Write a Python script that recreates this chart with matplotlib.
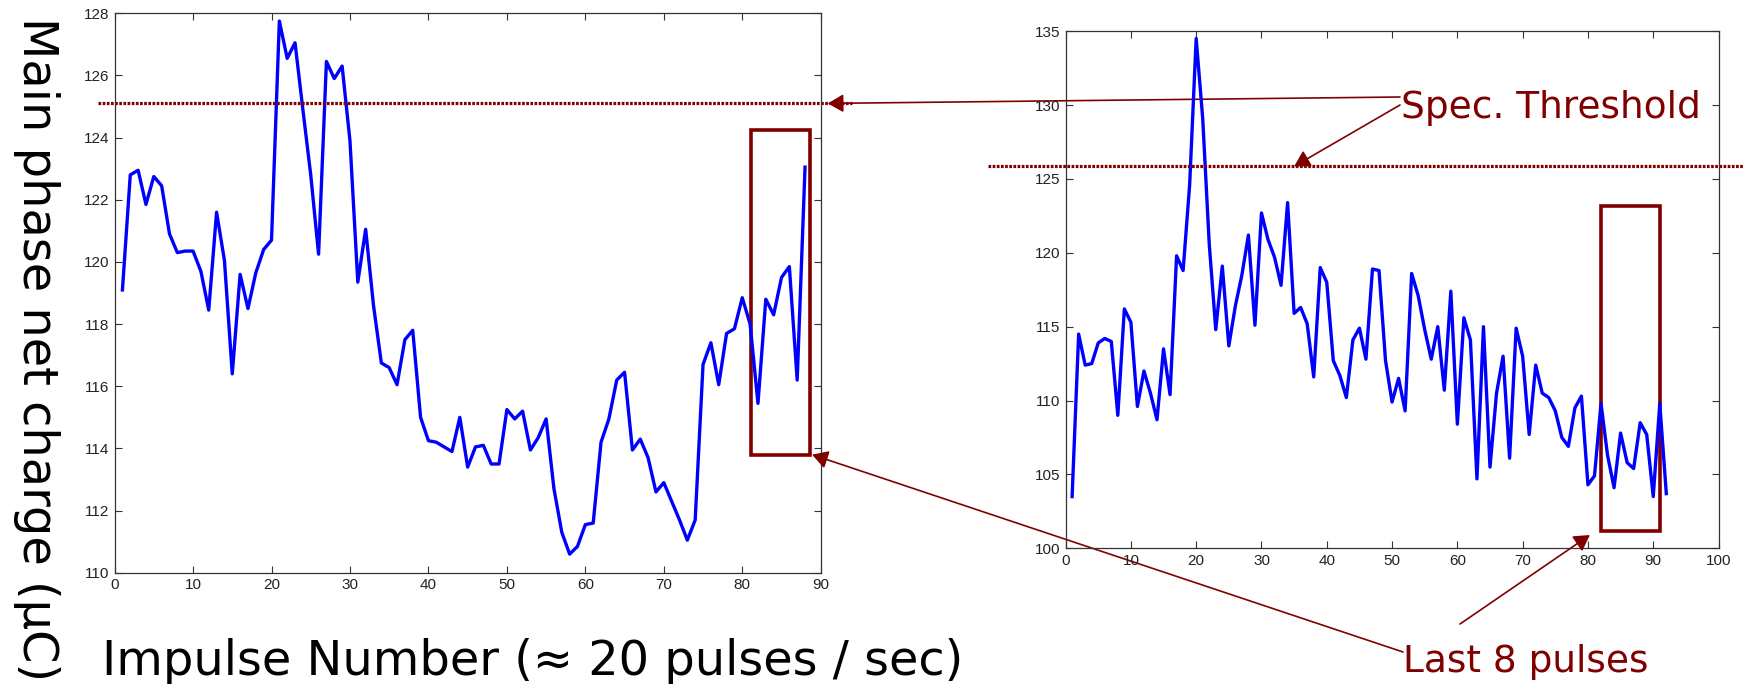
import numpy as np
import matplotlib.pyplot as plt
from matplotlib.patches import Rectangle

# left panel: net charge per impulse (first run)
left_pulse = np.arange(1, 89)
left_charge = [119.1, 122.8, 122.95, 121.85, 122.75, 122.45, 120.9, 120.3, 120.35, 120.35,
               119.7, 118.45, 121.6, 120.05, 116.4, 119.6, 118.5, 119.65, 120.4, 120.7,
               127.75, 126.55, 127.05, 124.9, 122.8, 120.25, 126.45, 125.9, 126.3, 123.9,
               119.35, 121.05, 118.6, 116.75, 116.6, 116.05, 117.5, 117.8, 115.0, 114.25,
               114.2, 114.05, 113.9, 115.0, 113.4, 114.05, 114.1, 113.5, 113.5, 115.25,
               114.95, 115.2, 113.95, 114.35, 114.95, 112.7, 111.3, 110.6, 110.85, 111.55,
               111.6, 114.2, 114.95, 116.2, 116.45, 113.95, 114.3, 113.7, 112.6, 112.9,
               112.3, 111.7, 111.05, 111.7, 116.7, 117.4, 116.05, 117.7, 117.85, 118.85,
               118.0, 115.45, 118.8, 118.3, 119.5, 119.85, 116.2, 123.05]
left_threshold = 125.1
left_box = (81.1, 113.8, 88.65, 124.25)   # x0, y0, x1, y1

# right panel: second run
right_pulse = np.arange(1, 93)
right_charge = [103.5, 114.5, 112.4, 112.5, 113.9, 114.2, 114.0, 109.0, 116.2, 115.3,
                109.6, 112.0, 110.5, 108.7, 113.5, 110.4, 119.8, 118.8, 124.6, 134.5,
                129.1, 120.6, 114.8, 119.1, 113.7, 116.4, 118.5, 121.2, 115.1, 122.7,
                120.9, 119.7, 117.8, 123.4, 115.9, 116.3, 115.2, 111.6, 119.0, 118.0,
                112.7, 111.7, 110.2, 114.1, 114.9, 112.8, 118.9, 118.8, 112.7, 109.9,
                111.5, 109.3, 118.6, 117.1, 114.8, 112.8, 115.0, 110.7, 117.4, 108.4,
                115.6, 114.1, 104.7, 115.0, 105.5, 110.5, 113.0, 106.1, 114.9, 113.0,
                107.7, 112.4, 110.5, 110.2, 109.3, 107.5, 106.9, 109.5, 110.3, 104.3,
                104.9, 109.8, 106.3, 104.1, 107.8, 105.8, 105.4, 108.5, 107.7, 103.5,
                109.8, 103.7]
right_threshold = 125.85
right_box = (82.0, 101.2, 91.1, 123.2)

dark_red = '#800000'

fig = plt.figure(figsize=(17.44, 6.84), dpi=100)
ax1 = fig.add_axes([0.0657, 0.1626, 0.4049, 0.818])
ax2 = fig.add_axes([0.611, 0.1984, 0.3744, 0.756])
# transparent so the arrow from the left panel stays visible across it
ax2.patch.set_visible(False)

for ax in (ax1, ax2):
    ax.tick_params(direction='in', length=5, width=0.8, top=True, right=True,
                   labelsize=11, pad=4, labelcolor='#222222', color='#333333')
    for s in ax.spines.values():
        s.set_color('#333333')
        s.set_linewidth(0.9)

ax1.plot(left_pulse, left_charge, color='#0000ff', lw=2.4)
ax1.set_xlim(0, 90)
ax1.set_ylim(110, 128)
ax1.set_xticks(range(0, 91, 10))
ax1.set_yticks(range(110, 129, 2))
ax1.plot([-2.1, 94.0], [left_threshold, left_threshold], color=dark_red, lw=2.3,
         linestyle=(0, (0.85, 0.45)), clip_on=False)
ax1.add_patch(Rectangle((left_box[0], left_box[1]), left_box[2] - left_box[0],
                        left_box[3] - left_box[1], fill=False, ec=dark_red, lw=2.6,
                        clip_on=False))

ax2.plot(right_pulse, right_charge, color='#0000ff', lw=2.4)
ax2.set_xlim(0, 100)
ax2.set_ylim(100, 135)
ax2.set_xticks(range(0, 101, 10))
ax2.set_yticks(range(100, 136, 5))
ax2.plot([-11.9, 104.0], [right_threshold, right_threshold], color=dark_red, lw=2.3,
         linestyle=(0, (0.85, 0.45)), clip_on=False)
ax2.add_patch(Rectangle((right_box[0], right_box[1]), right_box[2] - right_box[0],
                        right_box[3] - right_box[1], fill=False, ec=dark_red, lw=2.6,
                        clip_on=False))

for lbl in ax1.get_xticklabels() + ax1.get_yticklabels() + ax2.get_xticklabels() + ax2.get_yticklabels():
    lbl.set_family('Liberation Sans')

# annotation arrows
arrow = dict(arrowstyle='-|>,head_length=9.5,head_width=5.5', color=dark_red, lw=1.2,
             mutation_scale=1, shrinkA=0, shrinkB=0)
ax1.annotate('', xy=(90.9, left_threshold), xytext=(1400, 587), textcoords='figure pixels',
             arrowprops=arrow, annotation_clip=False)
ax2.annotate('', xy=(35.0, right_threshold), xytext=(1400, 579), textcoords='figure pixels',
             arrowprops=arrow, annotation_clip=False)
ax1.annotate('', xy=(88.9, 113.8), xytext=(1403, 32), textcoords='figure pixels',
             arrowprops=arrow, annotation_clip=False)
ax2.annotate('', xy=(80.3, 100.9), xytext=(1460, 60), textcoords='figure pixels',
             arrowprops=arrow, annotation_clip=False)

fig.text(1401 / 1744, 1 - 118 / 684, 'Spec. Threshold', color=dark_red, fontsize=27,
         ha='left', va='baseline')
fig.text(1403 / 1744, 1 - 671.7 / 684, 'Last 8 pulses', color=dark_red, fontsize=27,
         ha='left', va='baseline')

fig.text(102 / 1744, 9 / 684, 'Impulse Number (≈ 20 pulses / sec)', fontsize=34.5,
         ha='left', va='baseline')
fig.text(0.021, 0.49, 'Main phase net charge (μC)', fontsize=34.5, rotation=270,
         ha='center', va='center')

fig.savefig('out.png', dpi=100)
